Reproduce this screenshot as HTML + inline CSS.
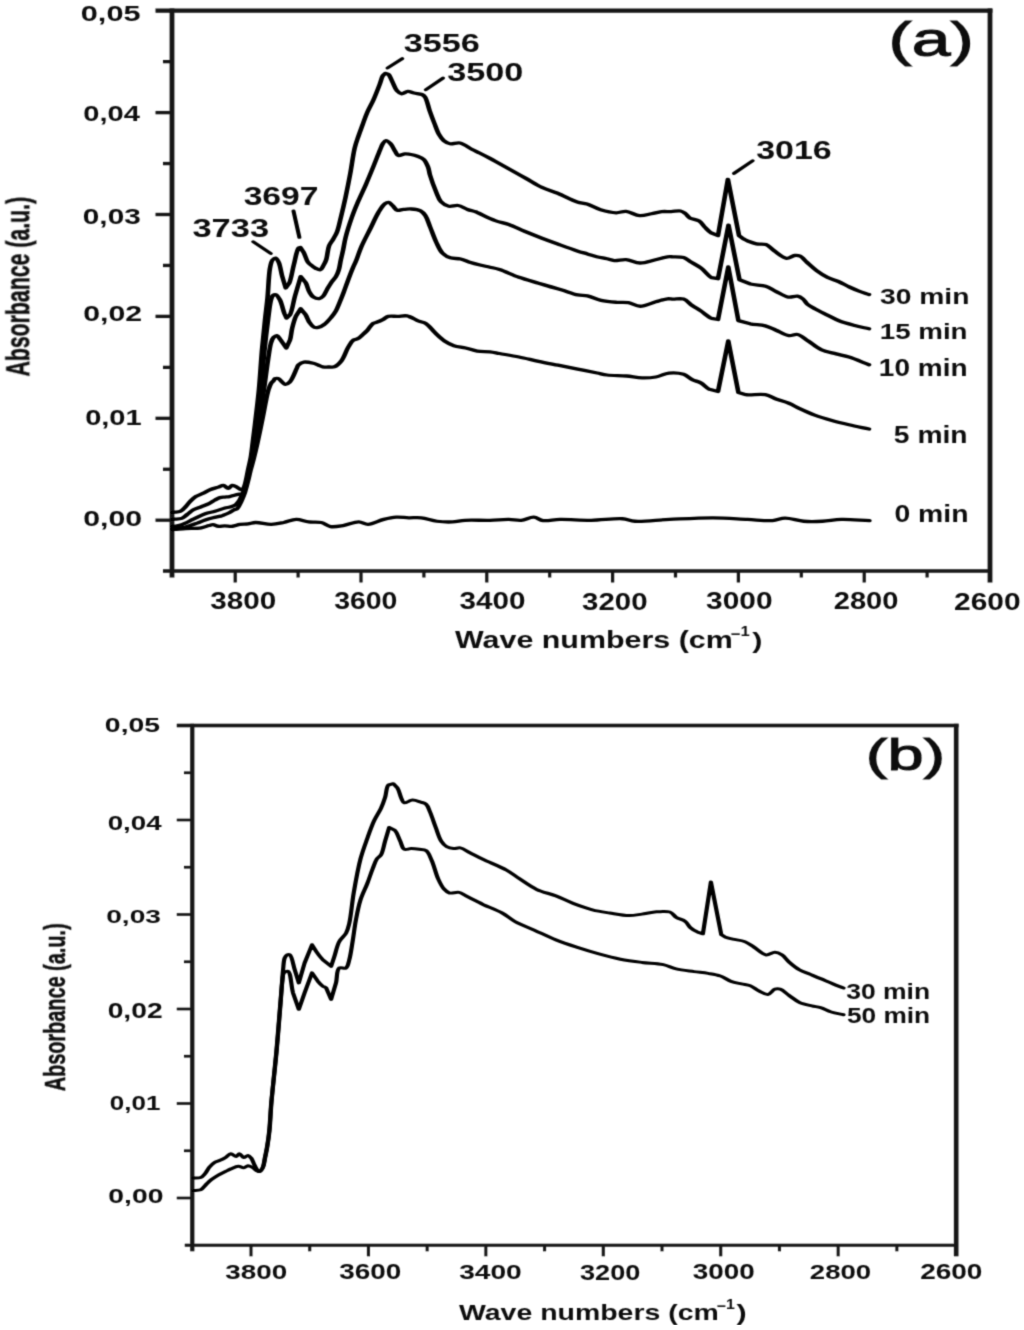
<!DOCTYPE html><html><head><meta charset="utf-8"><style>html,body{margin:0;padding:0;background:#fff;}svg{display:block;}</style></head><body><div id="w">
<svg width="1024" height="1330" viewBox="0 0 1024 1330" font-family="'Liberation Sans', Arial, sans-serif" font-weight="bold" fill="#111">
<defs><filter id="bl" x="0" y="0" width="1" height="1"><feConvolveMatrix order="3" kernelMatrix="0.0276 0.111 0.0276 0.111 0.446 0.111 0.0276 0.111 0.0276" divisor="1" edgeMode="none"/></filter></defs>
<rect width="1024" height="1330" fill="#fff"/>
<g filter="url(#bl)">
<line x1="155.5" y1="10.7" x2="992.4" y2="10.7" stroke="#151515" stroke-width="4.2"/>
<line x1="172" y1="8.6" x2="172" y2="577.5" stroke="#151515" stroke-width="4.8"/>
<line x1="990" y1="8.6" x2="990" y2="582.5" stroke="#151515" stroke-width="4.8"/>
<line x1="163" y1="571" x2="990" y2="571" stroke="#151515" stroke-width="3.3"/>
<line x1="155.5" y1="112.6" x2="172" y2="112.6" stroke="#151515" stroke-width="3.3"/>
<line x1="155.5" y1="214.5" x2="172" y2="214.5" stroke="#151515" stroke-width="3.3"/>
<line x1="155.5" y1="316.4" x2="172" y2="316.4" stroke="#151515" stroke-width="3.3"/>
<line x1="155.5" y1="418.3" x2="172" y2="418.3" stroke="#151515" stroke-width="3.3"/>
<line x1="155.5" y1="520.2" x2="172" y2="520.2" stroke="#151515" stroke-width="3.3"/>
<line x1="163" y1="61.65" x2="172" y2="61.65" stroke="#151515" stroke-width="3.3"/>
<line x1="163" y1="163.55" x2="172" y2="163.55" stroke="#151515" stroke-width="3.3"/>
<line x1="163" y1="265.45" x2="172" y2="265.45" stroke="#151515" stroke-width="3.3"/>
<line x1="163" y1="367.35" x2="172" y2="367.35" stroke="#151515" stroke-width="3.3"/>
<line x1="163" y1="469.25" x2="172" y2="469.25" stroke="#151515" stroke-width="3.3"/>
<line x1="235.2" y1="571" x2="235.2" y2="582.5" stroke="#151515" stroke-width="3.2"/>
<line x1="361" y1="571" x2="361" y2="582.5" stroke="#151515" stroke-width="3.2"/>
<line x1="486.8" y1="571" x2="486.8" y2="582.5" stroke="#151515" stroke-width="3.2"/>
<line x1="612.6" y1="571" x2="612.6" y2="582.5" stroke="#151515" stroke-width="3.2"/>
<line x1="738.4" y1="571" x2="738.4" y2="582.5" stroke="#151515" stroke-width="3.2"/>
<line x1="864.2" y1="571" x2="864.2" y2="582.5" stroke="#151515" stroke-width="3.2"/>
<line x1="298.1" y1="571" x2="298.1" y2="577.5" stroke="#151515" stroke-width="3.2"/>
<line x1="423.9" y1="571" x2="423.9" y2="577.5" stroke="#151515" stroke-width="3.2"/>
<line x1="549.7" y1="571" x2="549.7" y2="577.5" stroke="#151515" stroke-width="3.2"/>
<line x1="675.5" y1="571" x2="675.5" y2="577.5" stroke="#151515" stroke-width="3.2"/>
<line x1="801.3" y1="571" x2="801.3" y2="577.5" stroke="#151515" stroke-width="3.2"/>
<line x1="927.1" y1="571" x2="927.1" y2="577.5" stroke="#151515" stroke-width="3.2"/>
<line x1="176.8" y1="725.5" x2="958.5" y2="725.5" stroke="#151515" stroke-width="3.6"/>
<line x1="192.3" y1="723.7" x2="192.3" y2="1251.3" stroke="#151515" stroke-width="4.2"/>
<line x1="956.2" y1="723.7" x2="956.2" y2="1256.3" stroke="#151515" stroke-width="4.6"/>
<line x1="184.8" y1="1245.3" x2="956.2" y2="1245.3" stroke="#151515" stroke-width="3.0"/>
<line x1="176.8" y1="820" x2="192.3" y2="820" stroke="#151515" stroke-width="2.7"/>
<line x1="176.8" y1="914.5" x2="192.3" y2="914.5" stroke="#151515" stroke-width="2.7"/>
<line x1="176.8" y1="1009" x2="192.3" y2="1009" stroke="#151515" stroke-width="2.7"/>
<line x1="176.8" y1="1103.5" x2="192.3" y2="1103.5" stroke="#151515" stroke-width="2.7"/>
<line x1="176.8" y1="1198" x2="192.3" y2="1198" stroke="#151515" stroke-width="2.7"/>
<line x1="184" y1="772.75" x2="192.3" y2="772.75" stroke="#151515" stroke-width="2.7"/>
<line x1="184" y1="867.25" x2="192.3" y2="867.25" stroke="#151515" stroke-width="2.7"/>
<line x1="184" y1="961.75" x2="192.3" y2="961.75" stroke="#151515" stroke-width="2.7"/>
<line x1="184" y1="1056.25" x2="192.3" y2="1056.25" stroke="#151515" stroke-width="2.7"/>
<line x1="184" y1="1150.75" x2="192.3" y2="1150.75" stroke="#151515" stroke-width="2.7"/>
<line x1="251" y1="1245.3" x2="251" y2="1256.3" stroke="#151515" stroke-width="3.0"/>
<line x1="368.43" y1="1245.3" x2="368.43" y2="1256.3" stroke="#151515" stroke-width="3.0"/>
<line x1="485.86" y1="1245.3" x2="485.86" y2="1256.3" stroke="#151515" stroke-width="3.0"/>
<line x1="603.29" y1="1245.3" x2="603.29" y2="1256.3" stroke="#151515" stroke-width="3.0"/>
<line x1="720.72" y1="1245.3" x2="720.72" y2="1256.3" stroke="#151515" stroke-width="3.0"/>
<line x1="838.15" y1="1245.3" x2="838.15" y2="1256.3" stroke="#151515" stroke-width="3.0"/>
<line x1="309.72" y1="1245.3" x2="309.72" y2="1251.3" stroke="#151515" stroke-width="3.0"/>
<line x1="427.14" y1="1245.3" x2="427.14" y2="1251.3" stroke="#151515" stroke-width="3.0"/>
<line x1="544.58" y1="1245.3" x2="544.58" y2="1251.3" stroke="#151515" stroke-width="3.0"/>
<line x1="662" y1="1245.3" x2="662" y2="1251.3" stroke="#151515" stroke-width="3.0"/>
<line x1="779.44" y1="1245.3" x2="779.44" y2="1251.3" stroke="#151515" stroke-width="3.0"/>
<line x1="896.87" y1="1245.3" x2="896.87" y2="1251.3" stroke="#151515" stroke-width="3.0"/>
<path transform="scale(1.4,1)" d="M123.21,512.4 C123.74,512.33 124.15,512.31 124.79,512.2 C125.8,512.03 127.52,512.12 128.71,511.4 C130.18,510.52 131.38,508.37 132.57,506.7 C133.79,504.99 134.7,502.95 135.93,501.25 C137.13,499.59 138.36,497.91 139.86,496.6 C141.34,495.3 143.16,494.54 144.86,493.4 C146.68,492.18 148.62,490.5 150.43,489.5 C151.96,488.65 153.85,488.09 154.93,487.6 C155.54,487.32 155.79,487.18 156.36,486.9 C157.2,486.49 158.46,485.27 159.5,485.4 C160.68,485.55 161.93,488.36 163,488.3 C164.01,488.24 164.82,485.6 165.79,485.4 C166.57,485.24 167.42,485.91 168.21,486.4 C169.16,486.98 170.1,488.21 171,488.8 C171.71,489.27 172.51,490.01 173.07,489.8 C173.82,489.51 174.2,487.53 174.64,486 C175.27,483.85 175.62,480.82 176.07,478 C176.58,474.86 177,471.33 177.5,468 C178,464.66 178.61,461.68 179.07,458 C179.64,453.51 179.98,448.73 180.5,443 C181.2,435.31 182.11,425 182.86,416 C183.61,407 184.34,398.83 185,389 C185.79,377.2 186.38,362.15 187.14,350 C187.82,339.34 188.58,329.22 189.29,320 C189.89,312.1 190.52,305.9 191.07,298 C191.72,288.78 191.9,274.79 192.86,268 C193.35,264.46 193.63,261.66 194.64,260 C195.25,259 196.25,257.96 196.93,258.1 C197.77,258.27 198.44,260.36 199.07,262.2 C200.17,265.44 200.7,271.83 201.57,276.3 L204.07,288 L206.57,283.3 C207.99,279.19 208.77,270.55 209.93,264.5 C211.01,258.84 211.89,249.86 213.29,248.1 L214.57,247.5 L217.07,252.8 C218.11,255.46 218.71,259.8 220,262.2 C220.95,263.96 222.3,265.17 223.36,266.3 C224.18,267.18 224.82,267.92 225.71,268.5 C226.62,269.09 227.96,270.09 228.79,269.8 C229.74,269.46 230.22,267.36 230.86,265.9 C231.62,264.16 232.33,262.43 232.93,260 C233.84,256.32 233.99,249.53 235.07,245.8 C235.82,243.22 236.95,241.7 237.86,239.5 C238.84,237.12 239.88,234.96 240.71,232 C241.86,227.94 242.56,222.53 243.5,217.2 C244.6,210.97 245.78,203.92 246.86,196.9 C248.02,189.36 249.15,181.39 250.21,173.4 C251.32,165.1 252.16,154.87 253.36,148 C254.19,143.23 255.12,139.91 256.07,136 C256.98,132.25 257.93,128.78 258.93,125 C259.99,120.96 261,116.64 262.29,112.5 C263.59,108.31 265.3,104.42 266.71,100 C268.28,95.11 270,88.84 271.21,84.4 C272.11,81.12 272.53,77.73 273.43,75.8 L275.14,73.4 L277.36,74.2 C278.54,75.35 279.19,78.77 280.14,81.3 C281.23,84.18 282.07,88.43 283.5,90.6 C284.47,92.08 285.59,93.58 286.86,93.75 C288.18,93.93 289.79,91.51 291.29,91.4 C292.74,91.3 294.14,92.51 295.71,93 C297.47,93.55 299.99,93.67 301.36,94.5 C302.38,95.12 302.9,95.64 303.57,96.9 C304.98,99.54 305.78,106.37 306.93,110.9 C308.02,115.19 309.14,119.37 310.29,123.4 C311.36,127.19 312.28,131.31 313.57,134.4 C314.58,136.82 315.53,139 316.96,140.6 C318.22,142.01 319.67,143.29 321.43,143.75 C323.45,144.28 326.2,142.35 328.57,143 C331.49,143.8 334.73,147.69 337.29,149.5 C339.23,150.87 340.62,151.69 342.5,153 C344.79,154.59 347.94,156.88 350,158.4 C351.46,159.48 352.12,159.97 353.71,161.2 C356.66,163.47 362.3,167.94 366.21,171 C369.67,173.7 372.64,175.97 376,178.6 C379.6,181.42 383.3,184.92 387.14,187.4 C390.77,189.74 394.47,190.97 398.36,193.2 C402.8,195.75 408.32,200.23 412.29,202 C414.92,203.18 416.83,202.94 419.29,204 C422.34,205.32 425.54,208.34 429,209.8 C432.5,211.28 436.88,212.69 440.18,212.8 C442.76,212.88 444.67,211.13 447.14,211.4 C450.18,211.73 453.75,215.41 456.93,215.7 C459.78,215.96 462.6,214.46 465.29,213.75 C467.83,213.08 470.22,211.95 472.64,211.6 C474.91,211.28 477.12,211.7 479.36,211.6 C481.6,211.5 484.29,210.51 486.07,211 C487.47,211.38 488.39,212.36 489.43,213.4 C490.64,214.61 491.21,216.77 492.71,218 C494.43,219.4 497.62,219.46 499.43,221 C501.28,222.57 502.2,225.39 503.64,227.4 C504.99,229.28 506.18,231.31 507.79,232.7 L512.86,235.6 L519.93,179.3 L527.86,235.6 L531.25,239.1 C532.28,239.96 533.18,240.5 534.43,241.2 C536.06,242.11 538.21,243.33 540.29,243.9 C542.44,244.49 545.11,243.6 547.14,244.6 C549.41,245.72 550.79,248.7 553,250.8 C555.58,253.25 559.04,257.94 561.79,258.3 C563.84,258.57 565.85,255.74 567.64,255.5 C569.05,255.31 570.33,255.45 571.57,256.2 C573.32,257.25 574.65,260.2 576.43,262.4 C578.5,264.96 580.82,268.08 583.29,270.6 C585.71,273.08 588.36,275.54 591.07,277.4 C593.57,279.11 596.3,279.94 598.86,281.5 C601.52,283.13 604.16,285.34 606.71,287 C609.05,288.51 611.23,289.85 613.57,291.1 C615.9,292.35 618.33,293.37 620.71,294.5" fill="none" stroke="#000" stroke-width="3.3" stroke-linejoin="round" stroke-linecap="round"/>
<path transform="scale(1.4,1)" d="M123.21,519.4 C123.74,519.33 124.12,519.3 124.79,519.2 C125.98,519.03 128.32,519.14 129.79,518.4 C131.32,517.62 132.38,515.87 133.71,514.5 C135.16,513.02 136.47,511.1 138.14,509.8 C139.81,508.5 141.89,507.74 143.75,506.7 C145.6,505.67 147.61,504.76 149.29,503.6 C150.86,502.51 152.19,501.05 153.57,500 C154.77,499.09 155.85,498.08 157.07,497.6 C158.19,497.16 159.41,497.27 160.57,497.1 C161.72,496.93 162.87,496.9 164,496.6 C165.18,496.28 166.32,495.6 167.5,495.2 C168.66,494.8 169.94,494.46 171,494.2 C171.88,493.98 172.8,494.26 173.43,493.7 C174.32,492.91 174.53,490.88 175,489 C175.67,486.31 176.11,482.33 176.64,479 C177.18,475.67 177.7,472.37 178.21,469 C178.74,465.54 179.31,462.35 179.79,458.5 C180.36,453.84 180.71,448.88 181.29,443 C182.04,435.24 183.07,425 183.93,416 C184.79,407 185.66,398.83 186.43,389 C187.35,377.2 188.03,362.14 188.93,350 C189.71,339.34 190.57,328.99 191.43,320 C192.13,312.66 192.68,304.26 193.57,300 C194.01,297.94 194.21,296.34 195,295.5 C195.54,294.92 196.42,294.47 197.07,294.7 C198.11,295.08 199.02,297.54 199.86,299.7 C201.2,303.14 202.24,310.47 203.21,313.8 L204.71,318.1 L207.14,314.7 C208.7,311.06 209.45,302.28 210.71,296 L214.79,276.6 L218.29,282.5 C219.48,285.27 219.96,289.57 221.07,292.2 C221.9,294.17 222.59,296.03 223.86,297.1 C224.99,298.05 226.87,298.84 228.07,298.6 C229.17,298.38 230.04,297.26 230.86,296.1 C232,294.47 232.64,291.64 233.64,289.3 C234.72,286.78 235.99,283.78 237.14,281.5 C238.08,279.65 239.15,278.41 239.93,276.6 C240.81,274.56 241.44,272.3 242,269.8 C242.66,266.85 242.92,263.28 243.43,260 C243.94,256.68 244.53,253.52 245.07,250 C245.68,246.07 246.01,242.15 246.86,237.5 C247.94,231.53 249.77,223.5 251.36,217.2 C252.76,211.64 254.17,206.91 255.79,201.6 C257.49,195.99 259.53,190.27 261.36,184.4 C263.26,178.28 265.22,171.58 266.96,165.6 C268.55,160.16 270.21,154.02 271.43,150 C272.2,147.44 272.59,145.43 273.43,143.75 C274.07,142.46 274.77,140.69 275.64,140.6 C276.6,140.5 278.01,142.33 279,143.75 C280.35,145.68 281.3,149.46 282.36,151.6 C283.13,153.15 283.47,155.08 284.57,155.5 C285.74,155.94 287.73,154.05 289.29,153.9 C290.73,153.76 292.13,154.13 293.57,154.5 C295.11,154.89 296.73,155.46 298.21,156.25 C299.77,157.08 301.48,157.88 302.68,159.4 C304.16,161.28 305.04,164.56 305.79,167.2 C306.51,169.76 306.47,171.91 307.14,175 C308.14,179.63 310.12,187.35 311.61,192.2 C312.72,195.83 313.24,199.18 314.93,201.6 C316.37,203.67 318.44,205.62 320.54,206.25 C322.55,206.85 325.06,205.05 327.21,205.5 C329.53,205.99 331.74,208.32 333.93,209.4 C335.9,210.37 338.3,211.09 339.71,211.8 C340.57,212.23 340.77,212.42 341.71,213 C344.04,214.43 349.84,218.61 353.71,220.6 C357.04,222.3 360.14,222.86 363.43,224.5 C367.11,226.34 370.78,229.06 374.64,231.3 C378.67,233.63 383.07,236.03 387.14,238.2 C390.97,240.24 394.41,242 398.36,244 C402.74,246.22 408.36,249.12 412.29,250.9 C415.08,252.17 417.2,252.91 419.57,253.9 C421.84,254.84 423.92,255.89 426.21,256.7 C428.58,257.53 431.34,258.1 433.57,258.8 C435.47,259.4 436.82,260.39 438.79,260.6 C441.22,260.86 444.27,259.3 447.14,259.6 C450.36,259.94 453.71,262.93 457.14,263 C460.73,263.07 464.77,260.8 468.21,259.7 C471.26,258.73 474.47,257.18 476.79,256.8 C478.3,256.55 479.14,256.72 480.64,256.8 C482.76,256.91 486.16,256.7 488.29,257.6 C490.17,258.4 491.19,260.04 492.93,261.5 C495.16,263.37 498.14,265.4 500.57,267.9 C503.28,270.68 505.77,276 508.29,277.6 L512.86,278.7 L520.36,225.1 L528.21,279.7 L536.07,284 C539.32,285.2 543.8,284.94 546.93,286.3 C549.7,287.5 551.53,289.6 554.07,291.3 C556.9,293.19 560.26,296.47 563.14,297.1 C565.39,297.59 567.82,295.75 569.64,296.2 C571.21,296.58 572.44,297.78 573.57,299 C574.84,300.37 575.35,302.6 576.71,304.2 C578.22,305.96 580.21,307.34 582.36,309 C584.97,311.02 588.45,313.27 591.36,315.3 C594.08,317.2 596.32,319.17 599.29,320.8 C602.62,322.63 606.82,324.14 610.5,325.5 C613.96,326.78 617.31,327.7 620.71,328.8" fill="none" stroke="#000" stroke-width="3.3" stroke-linejoin="round" stroke-linecap="round"/>
<path transform="scale(1.4,1)" d="M123.21,526.4 C123.74,526.35 124.12,526.38 124.79,526.25 C125.99,526.01 127.97,525.56 129.79,524.7 C132.29,523.52 135.35,521.02 138.14,519.2 C140.94,517.37 143.81,515.1 146.57,513.75 C148.94,512.59 151.25,512.24 153.57,511.3 C155.96,510.33 158.72,508.74 160.71,508 C162.09,507.49 163.09,507.48 164.29,507 C165.59,506.48 167.15,505.88 168.21,504.9 C169.3,503.9 169.99,502.47 170.71,501 C171.55,499.3 172.14,497.17 172.79,495.2 C173.45,493.18 174.08,491.27 174.64,489 C175.32,486.29 175.82,483.12 176.43,480 C177.08,476.64 177.8,473 178.43,469.5 C179.06,466 179.65,462.87 180.21,459 C180.91,454.23 181.42,449.03 182.14,443 C183.08,435.17 184.29,425 185.36,416 C186.43,407 187.57,398.17 188.57,389 C189.6,379.51 190.49,368.38 191.43,360 C192.15,353.58 192.66,347.08 193.57,343 C194.1,340.63 194.46,338.75 195.36,337.5 C196.01,336.6 197.03,335.56 197.79,335.7 C198.74,335.88 199.44,338.17 200.36,339.8 L204.5,348 L207.14,340 C207.95,336.46 208.01,332.07 208.71,328.1 C209.43,324.07 210.25,319.46 211.43,316 L214.79,308.8 L218.29,314.7 C219.4,317.07 219.91,320.27 221.07,322.5 C222.07,324.4 223.29,326.74 224.57,327.4 C225.45,327.85 226.38,327.7 227.36,327.4 C228.68,326.99 230.23,325.83 231.57,324.5 C233.29,322.8 235.01,319.94 236.43,317.6 C237.78,315.37 238.92,313.26 239.93,310.8 C241.04,308.1 241.81,305.02 242.71,302 C243.67,298.83 244.59,295.54 245.5,292.2 C246.45,288.72 247.29,285.22 248.29,281.5 C249.37,277.44 250.65,272.64 251.79,268.8 C252.74,265.59 253.63,263.24 254.57,260 C255.71,256.08 256.57,251.63 258.04,246.9 C259.81,241.16 262.59,234.07 264.71,228.1 C266.65,222.66 268.37,216.88 270.29,212.5 C271.75,209.15 273.21,205.54 274.79,203.9 C275.69,202.96 276.7,202.15 277.57,202.3 C278.57,202.47 279.41,204.31 280.36,205.5 C281.46,206.89 282.3,209.63 283.71,210.2 C284.96,210.71 286.57,209.6 288.14,209.4 C289.9,209.18 291.82,208.8 293.75,209 C295.9,209.22 298.72,209.7 300.43,210.9 C301.98,211.99 302.8,213.61 303.79,215.6 C305.17,218.41 305.96,222.61 307.14,226.6 C308.54,231.34 309.98,237.51 311.61,242.2 C312.99,246.2 314.09,250.39 316.07,253.1 C317.63,255.24 319.5,256.82 321.64,257.8 C323.81,258.8 326.62,258.24 329,259 C331.46,259.78 333.77,261.48 336.14,262.5 C338.39,263.47 340.57,264.22 342.86,265 C345.19,265.79 347.65,266.44 350,267.2 C352.3,267.94 354.18,268.34 356.79,269.5 C360.67,271.23 366,275 370.71,277.3 C375.31,279.55 380.85,281.58 384.71,283.2 C387.45,284.34 389.19,285.07 391.71,286.1 C394.68,287.31 398.09,288.6 401.43,290 C405.04,291.52 409.29,293.95 412.64,294.9 C415.18,295.62 417.12,295.18 419.57,295.9 C422.61,296.8 425.92,299.34 429.36,300.4 C432.88,301.49 437.04,301.92 440.5,302.3 C443.48,302.62 446.12,302.08 448.86,302.7 C451.72,303.35 454.27,306.22 457.29,306.25 C460.74,306.28 464.97,303.11 468.43,301.8 C471.4,300.67 474.5,299.11 476.79,298.8 C478.29,298.6 479.14,299.04 480.64,299.1 C482.76,299.18 486.05,298.15 488.29,299.1 C490.69,300.13 492.34,303.5 494.43,305.5 C496.44,307.42 498.43,308.92 500.57,310.9 C503.02,313.17 505.87,317.07 508.29,318.4 L512.86,319.5 L520.21,266.9 L527.43,320.6 L535.86,323.8 C539.19,324.75 543.44,324.72 546.64,325.9 C549.5,326.95 551.63,328.67 554.29,330.2 C557.22,331.89 560.65,335.09 563.5,335.6 C565.68,335.99 567.61,333.95 569.64,334.5 C572.22,335.2 574.65,338.65 577.29,341 C580.24,343.64 583.08,347.43 586.5,349.6 C589.78,351.68 593.83,352.61 597.29,353.9 C600.45,355.08 603.11,355.63 606.43,357.1 C610.73,359 615.95,362.23 620.71,364.8" fill="none" stroke="#000" stroke-width="3.3" stroke-linejoin="round" stroke-linecap="round"/>
<path transform="scale(1.4,1)" d="M123.21,528.7 C123.74,528.67 124.07,528.7 124.79,528.6 C126.4,528.38 129.98,527.86 132.57,527 C135.36,526.08 138.43,524.37 140.93,523.1 C143.01,522.04 144.67,520.91 146.57,520 C148.41,519.12 150.27,518.35 152.14,517.7 C153.98,517.06 156.31,516.65 157.71,516.1 C158.62,515.74 159.07,515.43 159.86,515 C160.87,514.44 162.14,513.8 163.29,513 C164.57,512.1 166,510.52 167.14,509.8 C167.93,509.3 168.67,509.43 169.29,508.8 C170.21,507.86 170.8,505.63 171.43,504 C172.06,502.37 172.52,500.81 173.07,499 C173.71,496.87 174.39,494.61 175,492 C175.76,488.76 176.48,484.67 177.14,481 C177.81,477.34 178.34,473.62 179,470 C179.65,466.45 180.36,463.4 181.07,459.5 C181.96,454.62 182.88,449.18 183.86,443 C185.11,435.11 186.71,424.04 187.86,416 C188.79,409.51 189.5,403.35 190.29,398.4 C190.86,394.77 191.33,391.7 191.96,389 C192.46,386.91 192.9,384.95 193.57,383.5 C194.07,382.43 194.79,381.74 195.29,380.9 C195.73,380.15 195.84,379.09 196.43,378.7 C196.98,378.33 197.84,378.18 198.64,378.5 C200.15,379.1 202.27,384.24 203.86,384.4 C204.98,384.51 206.01,383.35 207,382 C208.92,379.39 211.01,370.95 212.07,368 C212.56,366.63 212.47,365.9 213.14,365 C213.97,363.88 215.49,362.47 217.07,362.1 C218.94,361.66 221.98,362.69 223.79,363.3 C225.12,363.75 225.97,364.42 227.07,365 C228.2,365.59 229.21,366.45 230.5,366.8 C231.96,367.19 233.93,367.01 235.43,367 C236.68,366.99 237.73,367.36 238.86,366.8 C240.55,365.95 242.39,363.45 243.86,360.9 C245.9,357.36 247.19,350.7 248.86,346.9 C250.07,344.15 251.07,341.31 252.5,340 C253.43,339.14 254.57,339.43 255.57,338.7 C256.9,337.73 258.26,335.64 259.43,334.2 C260.47,332.92 261.29,331.96 262.29,330.5 C263.6,328.57 265,324.79 266.43,323.5 C267.27,322.74 268.04,322.81 269,322.3 C270.29,321.61 272.03,320.59 273.43,319.6 C274.81,318.62 275.75,316.97 277.36,316.4 C279.2,315.74 281.84,316.48 284.07,316.4 C286.29,316.32 288.46,315.35 290.71,315.9 C293.46,316.57 296.63,319.77 299.11,321.1 C300.96,322.09 302.52,322.06 304.14,323.4 C306.48,325.34 308.51,329.81 310.79,332.8 C312.97,335.67 315.1,338.77 317.5,341 C319.61,342.96 321.74,344.54 324.21,345.7 C326.75,346.89 329.8,347.11 332.57,348 C335.38,348.9 338.04,350.47 340.93,351.1 C343.85,351.74 347.21,351.35 350,351.8 C352.44,352.2 354.12,352.83 356.79,353.5 C360.6,354.46 366.08,355.71 370.71,357 C375.39,358.31 380.05,359.93 384.71,361.3 C389.34,362.66 393.93,363.9 398.57,365.2 C403.24,366.5 407.97,367.8 412.64,369.1 C417.3,370.4 422.72,371.91 426.57,373 C429.3,373.77 430.81,374.51 433.57,375 C437.39,375.68 443.13,375.47 447.5,376 C451.43,376.48 455.04,377.76 458.64,377.9 C462,378.03 465.25,377.78 468.43,377 C471.66,376.2 474.57,373.56 477.86,373.1 C481.19,372.63 485.42,373.04 488.29,374.3 C490.81,375.4 492.3,378.13 494.43,379.6 C496.4,380.96 498.63,381.43 500.57,382.9 C502.76,384.56 504.48,387.85 506.71,389.3 L512.86,391.5 L520.21,341 L527.43,392.5 L532.79,394.7 C536.28,395.39 542.81,393.7 546.64,394.7 C549.69,395.5 551.59,397.62 554.29,399 C557.19,400.49 560.64,401.66 563.5,403.3 C566.24,404.87 568.34,406.79 571.14,408.6 C574.4,410.71 578.15,413.14 581.93,415.1 C585.83,417.12 590.09,418.88 594.21,420.5 C598.26,422.09 602.18,423.38 606.43,424.75 C610.99,426.22 615.95,427.58 620.71,429" fill="none" stroke="#000" stroke-width="3.3" stroke-linejoin="round" stroke-linecap="round"/>
<path transform="scale(1.4,1)" d="M123.21,529.5 C123.74,529.47 124.06,529.46 124.79,529.4 C126.4,529.27 129.74,528.85 132.57,528.6 C135.96,528.3 140.72,528.52 143.75,527.8 C145.97,527.27 147.73,526.04 149.29,525.5 C150.38,525.12 151.13,524.64 152.14,524.7 C153.34,524.77 154.64,526.04 156,526.25 C157.42,526.47 158.92,525.91 160.5,525.9 C162.26,525.89 164.26,526.5 166.07,526.25 C167.9,526 169.58,524.79 171.43,524.4 C173.3,524 175.34,524.22 177.21,523.9 C179.05,523.58 180.45,522.59 182.57,522.5 C185.61,522.37 190.24,524.47 193.75,524.4 C196.9,524.33 199.73,523.32 202.68,522.5 C205.68,521.66 208.62,519.49 211.61,519.4 C214.57,519.31 217.53,521.38 220.54,521.9 C223.49,522.41 226.8,521.65 229.46,522.5 C231.96,523.3 233.65,526.04 236.14,526.6 C238.81,527.2 241.97,526.28 245.07,525.6 C248.63,524.82 253.01,521.84 256.25,521.9 C258.77,521.95 260.44,524.48 262.93,524.4 C266.2,524.3 270.54,520.63 274.11,519.4 C277.2,518.34 280.04,517.46 283.04,517.2 C285.99,516.94 288.99,517.7 291.96,517.8 C294.94,517.9 297.79,517.33 300.89,517.8 C304.45,518.34 308.31,520.57 312.07,521.25 C315.75,521.91 319.72,522.11 323.21,521.9 C326.37,521.71 328.64,520.61 332.14,520.3 C337.06,519.86 344.48,520.49 350,520.3 C354.79,520.14 359.38,519.33 363.39,519.4 C366.67,519.45 369.38,520.64 372.32,520.3 C375.34,519.95 378.53,517.01 381.25,517.2 C383.68,517.37 385.29,520.1 387.93,520.6 C391.29,521.23 395.36,519.54 400,519.4 C406.3,519.21 414.88,520.41 422.32,520.3 C429.76,520.19 438.92,518.16 444.64,518.75 C448.33,519.13 449.82,520.88 453.57,521.25 C459.69,521.86 469.46,519.95 478.14,519.4 C487.92,518.78 499.58,517.73 509.36,517.8 C518.04,517.86 526.39,518.9 533.93,519.4 C540.36,519.83 546.89,521.11 551.79,520.6 C555.31,520.24 557.43,518.17 560.71,518.1 C564.72,518.02 569.61,520.73 574.11,521.25 C578.54,521.76 583.05,521.56 587.5,521.25 C591.97,520.94 595.97,519.59 600.89,519.4 C606.91,519.17 614.3,520.2 621,520.6" fill="none" stroke="#000" stroke-width="3.3" stroke-linejoin="round" stroke-linecap="round"/>
<path transform="scale(1.4,1)" d="M138.21,1178 C138.4,1178 138.5,1178.02 138.79,1178 C139.58,1177.96 142.09,1178.19 143.36,1177.5 C144.66,1176.79 145.48,1175.19 146.43,1173.7 C147.57,1171.9 148.3,1169.23 149.5,1167.3 C150.63,1165.49 151.94,1163.6 153.36,1162.4 C154.55,1161.39 155.96,1161.09 157.21,1160.3 C158.51,1159.49 159.77,1158.63 161,1157.6 C162.33,1156.49 163.52,1153.91 164.86,1153.8 C166.1,1153.7 167.65,1156.64 168.71,1156.5 C169.64,1156.38 170.19,1153.79 171,1153.8 C171.95,1153.81 172.97,1157.45 174.07,1157.6 C175.04,1157.73 176.24,1155.29 177.14,1155.4 C178.02,1155.51 178.76,1156.91 179.43,1158.1 C180.4,1159.82 180.96,1162.93 181.79,1165.1 C182.52,1167.03 183.23,1169.44 184.07,1170.5 C184.55,1171.1 185.08,1171.71 185.57,1171.6 C186.36,1171.42 187.26,1169.08 187.86,1167.3 C188.71,1164.77 188.93,1160.92 189.43,1157.6 C189.95,1154.12 190.46,1150.84 190.93,1146.9 C191.5,1142.06 192.05,1136.87 192.5,1130.7 C193.1,1122.5 193.27,1112.87 193.93,1102 C194.8,1087.69 196.42,1068.86 197.5,1052.3 C198.58,1035.76 199.59,1017.57 200.43,1002.7 C201.11,990.56 201.59,977.8 202.21,969.6 C202.58,964.74 202.57,960.56 203.36,958 C203.78,956.62 204.28,955.51 205,955 C205.54,954.62 206.34,954.31 206.93,954.7 C208.57,955.8 209.39,964.77 210.5,969.6 L213.43,982.9 L217.57,963 L222.86,944.8 L225.86,951.4 C227.2,954.04 228.76,957.18 230.57,959.7 L236.5,966.3 L238.86,956.4 C239.91,951.94 240.72,945.65 242.36,941.5 C243.66,938.22 245.96,936.18 247.14,933.2 C248.36,930.13 248.78,927.53 249.5,923.3 C250.75,915.98 251.37,903.39 252.64,893 C254,881.96 255.63,868.79 257.5,858.9 C258.96,851.16 260.67,844.98 262.36,838.4 C263.94,832.24 265.5,825.94 267.29,820.6 C268.8,816.08 270.82,812.32 272.14,808.3 C273.37,804.57 274.2,801.08 275.07,797.3 C275.99,793.33 275.84,786.96 277.5,785 L280.93,783.7 L283.86,787.8 C285.12,790.48 285.77,795.97 286.79,798.7 C287.43,800.43 287.67,802.4 288.79,802.8 C290.11,803.27 292.67,800.2 294.64,800.1 C296.58,800 298.78,801.34 300.5,802.1 C301.95,802.74 303.32,802.98 304.36,804.2 C305.82,805.91 306.31,809.23 307.29,812.4 C308.59,816.63 309.88,822.52 311.21,827.4 C312.5,832.08 313.5,837.66 315.14,841.1 C316.27,843.46 317.42,845.34 319,846.6 C320.41,847.72 322.26,848.4 323.93,848.6 C325.53,848.79 327.11,847.5 328.79,847.9 C330.97,848.42 333.19,850.97 335.64,852.7 C338.51,854.72 341.34,856.88 344.93,859.3 C349.68,862.51 357.14,866.49 361.79,870.1 C365.47,872.96 367.68,875.71 371,878.7 C374.77,882.1 378.86,886.51 383.29,889.4 C387.57,892.2 392.67,893.53 397.07,895.9 C401.35,898.21 405.08,901.11 409.36,903.4 C413.76,905.75 418.61,908.17 423.14,909.8 C427.29,911.29 431.19,912.05 435.43,913 C439.89,914 445.13,915.55 449.29,915.6 C452.67,915.64 455.44,914.7 458.5,914.1 C461.56,913.5 464.45,912.36 467.64,912 C471.07,911.61 475.78,910.79 478.43,912 C480.56,912.98 481.21,915.75 483,917.3 C484.88,918.93 487.78,919.72 489.5,921.5 C491.16,923.22 491.71,925.91 493.21,927.7 C494.66,929.42 496.64,931.05 498.29,932.1 L502.07,933.8 L507.79,882 L515.21,934.7 L518.36,937.3 C519.77,938.11 521.45,938.47 523.36,939.1 C525.87,939.92 529.58,940.32 532.14,941.7 C534.57,943.01 536.18,945.04 538.43,947 C541.13,949.35 544.38,954.41 547.21,954.9 C549.36,955.27 551.53,952.22 553.5,952.3 C555.3,952.37 557.03,953.56 558.57,954.9 C560.47,956.55 561.64,959.64 563.57,962 C565.74,964.64 568.41,967.79 571.07,969.9 C573.46,971.79 576.12,972.84 578.64,974.3 C581.15,975.75 583.55,977.12 586.14,978.65 C588.96,980.31 592.09,982.29 594.93,983.9 C597.53,985.38 599.98,986.63 602.5,988" fill="none" stroke="#000" stroke-width="3.0" stroke-linejoin="round" stroke-linecap="round"/>
<path transform="scale(1.4,1)" d="M138.21,1190.4 C138.4,1190.4 138.51,1190.42 138.79,1190.4 C139.58,1190.35 142.04,1190.58 143.36,1189.8 C144.93,1188.86 145.91,1186.22 147.21,1184.5 C148.48,1182.82 149.67,1181.13 151.07,1179.6 C152.48,1178.06 154.01,1176.62 155.64,1175.3 C157.31,1173.95 159.36,1172.74 161,1171.6 C162.39,1170.63 163.43,1169.75 164.86,1168.9 C166.47,1167.94 168.56,1166.26 170.21,1166.2 C171.59,1166.15 172.89,1167.92 174.07,1167.8 C175.19,1167.68 176.1,1165.76 177.14,1165.7 C178.15,1165.64 179.25,1166.57 180.21,1167.3 C181.31,1168.12 182.4,1169.74 183.29,1170.5 C183.87,1171 184.31,1171.69 184.86,1171.6 C185.69,1171.46 186.83,1169.6 187.5,1168 C188.52,1165.58 188.62,1161.42 189.14,1158 C189.69,1154.42 190.23,1151.01 190.71,1147 C191.3,1142.17 191.83,1137.13 192.29,1131 C192.9,1122.77 193.11,1112.96 193.79,1102 C194.67,1087.65 196.27,1068.86 197.36,1052.3 C198.44,1035.76 199.45,1016.04 200.29,1002.7 C200.85,993.67 201.23,985.42 201.79,980 C202.1,976.96 201.8,974.32 202.79,972.9 C203.46,971.93 204.88,970.89 205.71,971.3 C207.84,972.34 207.9,986.13 209.29,992.8 L213.43,1009.3 L217.57,992.8 L222.86,972.9 L227,981.2 C228.16,983.13 229.4,985.06 230.57,986.2 C231.37,986.98 232.21,986.83 232.93,987.8 L236.5,999.4 L240,982.9 C240.94,977.82 240.26,969.79 242.36,968 C243.54,966.99 245.98,968.88 247.14,968 C248.71,966.82 248.81,963.03 249.5,959.7 C250.5,954.84 251.1,947.82 251.86,941.5 C252.68,934.64 253.25,927.03 254.21,920 C255.15,913.17 256.05,906.22 257.5,899.9 C258.82,894.11 260.86,888.87 262.36,883.5 C263.78,878.37 265.02,872.84 266.29,868.4 C267.29,864.86 268.01,861.34 269.21,858.9 C270.07,857.16 271.31,856.68 272.14,854.8 C273.53,851.66 274.1,845.67 275.07,841.1 L278,827.4 L281.93,830.2 C283.68,832.5 284.65,837.72 285.86,841.1 C286.91,844.03 287.14,848.31 288.79,849.3 C290.02,850.05 291.95,848.62 293.64,848.6 C295.5,848.58 297.65,848.93 299.5,849.3 C301.21,849.65 303.03,849.51 304.36,850.7 C306.25,852.4 307.04,856.43 308.29,860.2 C310.02,865.43 311.41,874.17 313.14,879.4 C314.39,883.17 315.5,886.5 317.07,888.9 C318.24,890.69 319.33,892.37 321,893 C322.84,893.69 325.82,891.87 327.82,892.4 C329.69,892.9 330.9,894.53 332.71,895.8 C335.01,897.41 338.27,899.73 340.5,901.3 C342.18,902.48 343.02,903.14 344.93,904.4 C348.23,906.58 354.71,909.93 358.71,913 C362.24,915.71 364.4,918.89 367.93,921.6 C371.93,924.67 377,927.24 381.71,930.2 C386.7,933.33 391.87,937 397.07,939.9 C402.11,942.71 407.28,945.05 412.43,947.4 C417.52,949.72 422.63,951.92 427.79,953.9 C432.87,955.85 437.98,957.78 443.14,959.2 C448.22,960.6 453.37,961.5 458.5,962.4 C463.59,963.3 469.41,963.3 473.79,964.6 C477.33,965.66 479.61,967.77 483,968.9 C486.85,970.19 491.78,970.82 495.79,971.6 C499.32,972.29 502.58,972.64 505.79,973.4 C508.83,974.12 511.85,974.69 514.57,976 C517.3,977.32 519.53,979.96 522.14,981.3 C524.57,982.54 527.24,983.14 529.64,983.9 C531.82,984.59 533.94,984.64 535.93,985.7 C538.16,986.89 540.04,989.5 542.21,991 C544.24,992.4 546.62,994.79 548.5,994.5 C550.39,994.21 551.78,989.94 553.5,989.2 C554.74,988.67 555.98,988.67 557.29,989.2 C559.28,990.01 561.37,993.24 563.57,995.35 C565.95,997.63 568.29,1000.63 571.07,1002.4 C573.74,1004.1 577.15,1004.99 579.86,1005.9 C582.11,1006.66 584.01,1006.76 586.14,1007.65 C588.61,1008.68 591.03,1010.83 593.71,1012 C596.47,1013.2 599.57,1013.8 602.5,1014.7" fill="none" stroke="#000" stroke-width="3.0" stroke-linejoin="round" stroke-linecap="round"/>
<polyline transform="scale(1.4,1)" points="276.79,68 287.36,58.6" fill="none" stroke="#000" stroke-width="2.9" stroke-linejoin="round" stroke-linecap="round"/>
<polyline transform="scale(1.4,1)" points="304.14,89.8 316.43,78.1" fill="none" stroke="#000" stroke-width="2.9" stroke-linejoin="round" stroke-linecap="round"/>
<polyline transform="scale(1.4,1)" points="180.86,241.8 193.43,253.5" fill="none" stroke="#000" stroke-width="2.9" stroke-linejoin="round" stroke-linecap="round"/>
<polyline transform="scale(1.4,1)" points="209.64,211 213.86,237.4" fill="none" stroke="#000" stroke-width="2.9" stroke-linejoin="round" stroke-linecap="round"/>
<polyline transform="scale(1.4,1)" points="524.29,173.4 537.64,160.7" fill="none" stroke="#000" stroke-width="2.9" stroke-linejoin="round" stroke-linecap="round"/>
<text transform="translate(80.77,21.48) scale(1.3855,1)" font-size="22.18">0,05</text>
<text transform="translate(83.24,121.18) scale(1.3118,1)" font-size="22.18">0,04</text>
<text transform="translate(82.81,223.78) scale(1.3347,1)" font-size="22.32">0,03</text>
<text transform="translate(83.19,320.97) scale(1.3398,1)" font-size="22.60">0,02</text>
<text transform="translate(85.14,425.37) scale(1.2865,1)" font-size="22.60">0,01</text>
<text transform="translate(83.19,525.99) scale(1.4204,1)" font-size="21.33">0,00</text>
<text transform="translate(210.22,609.36) scale(1.2487,1)" font-size="23.73">3800</text>
<text transform="translate(334.15,608.56) scale(1.1999,1)" font-size="23.73">3600</text>
<text transform="translate(459.52,608.56) scale(1.2487,1)" font-size="23.73">3400</text>
<text transform="translate(582.12,610.36) scale(1.2316,1)" font-size="23.87">3200</text>
<text transform="translate(706.11,608.56) scale(1.2584,1)" font-size="23.73">3000</text>
<text transform="translate(833.78,608.56) scale(1.2262,1)" font-size="23.73">2800</text>
<text transform="translate(954.05,609.66) scale(1.2521,1)" font-size="23.87">2600</text>
<text transform="translate(403.71,52.45) scale(1.3787,1)" font-size="24.86">3556</text>
<text transform="translate(447.21,80.65) scale(1.3763,1)" font-size="24.86">3500</text>
<text transform="translate(243.63,205.24) scale(1.2812,1)" font-size="26.27">3697</text>
<text transform="translate(192.41,236.65) scale(1.3724,1)" font-size="25.14">3733</text>
<text transform="translate(756.22,158.75) scale(1.3353,1)" font-size="25.42">3016</text>
<text transform="translate(879.95,303.68) scale(1.2905,1)" font-size="21.89">30 min</text>
<text transform="translate(879.75,339.17) scale(1.2122,1)" font-size="22.88">15 min</text>
<text transform="translate(878.83,375.77) scale(1.2101,1)" font-size="23.16">10 min</text>
<text transform="translate(893.82,442.57) scale(1.2202,1)" font-size="23.16">5 min</text>
<text transform="translate(894.47,522.47) scale(1.2246,1)" font-size="23.16">0 min</text>
<text transform="translate(888.47,56.14) scale(1.4644,1)" font-size="47.64" font-weight="normal" stroke="#111" stroke-width="1.0">(a)</text>
<text transform="translate(454.97,647.9) scale(1.2459,1)" font-size="24.42">Wave numbers (cm</text>
<text transform="translate(730.72,636.1) scale(1.1210,1)" font-size="14.83"><tspan dy="2.4">−</tspan><tspan dy="-2.4">1</tspan></text>
<text transform="translate(752.37,647.65) scale(1.3948,1)" font-size="21.86">)</text>
<text transform="translate(29.3,376.53) scale(1,0.6299) rotate(-90)" font-size="33.79" stroke="#111" stroke-width="0.5">Absorbance (a.u.)</text>
<text transform="translate(104.86,732) scale(1.3858,1)" font-size="20.48">0,05</text>
<text transform="translate(107.69,829.5) scale(1.3822,1)" font-size="20.06">0,04</text>
<text transform="translate(106.17,922.61) scale(1.5116,1)" font-size="18.64">0,03</text>
<text transform="translate(107.67,1017.59) scale(1.3242,1)" font-size="21.33">0,02</text>
<text transform="translate(109.86,1110.3) scale(1.3048,1)" font-size="19.92">0,01</text>
<text transform="translate(108.37,1202.69) scale(1.3635,1)" font-size="20.76">0,00</text>
<text transform="translate(225.26,1279.39) scale(1.3310,1)" font-size="20.90">3800</text>
<text transform="translate(339.16,1279.39) scale(1.3155,1)" font-size="21.19">3600</text>
<text transform="translate(459.25,1279.39) scale(1.3443,1)" font-size="20.90">3400</text>
<text transform="translate(579.98,1279.59) scale(1.2805,1)" font-size="21.19">3200</text>
<text transform="translate(692.86,1279.19) scale(1.3155,1)" font-size="21.19">3000</text>
<text transform="translate(809.84,1279.39) scale(1.3184,1)" font-size="20.90">2800</text>
<text transform="translate(920.22,1279.39) scale(1.3119,1)" font-size="21.33">2600</text>
<text transform="translate(846.19,998.88) scale(1.2263,1)" font-size="21.61">30 min</text>
<text transform="translate(846.89,1022.58) scale(1.2159,1)" font-size="21.61">50 min</text>
<text transform="translate(865.87,769.67) scale(1.4410,1)" font-size="45.06" font-weight="normal" stroke="#111" stroke-width="1.0">(b)</text>
<text transform="translate(458.97,1320.2) scale(1.2632,1)" font-size="22.53">Wave numbers (cm</text>
<text transform="translate(716.65,1309) scale(1.0707,1)" font-size="14.83"><tspan dy="2.4">−</tspan><tspan dy="-2.4">1</tspan></text>
<text transform="translate(736.47,1320.09) scale(1.4370,1)" font-size="21.22">)</text>
<text transform="translate(65,1091.2) scale(1,0.6863) rotate(-90)" font-size="28.97" stroke="#111" stroke-width="0.5">Absorbance (a.u.)</text>
</g>
</svg></div></body></html>
